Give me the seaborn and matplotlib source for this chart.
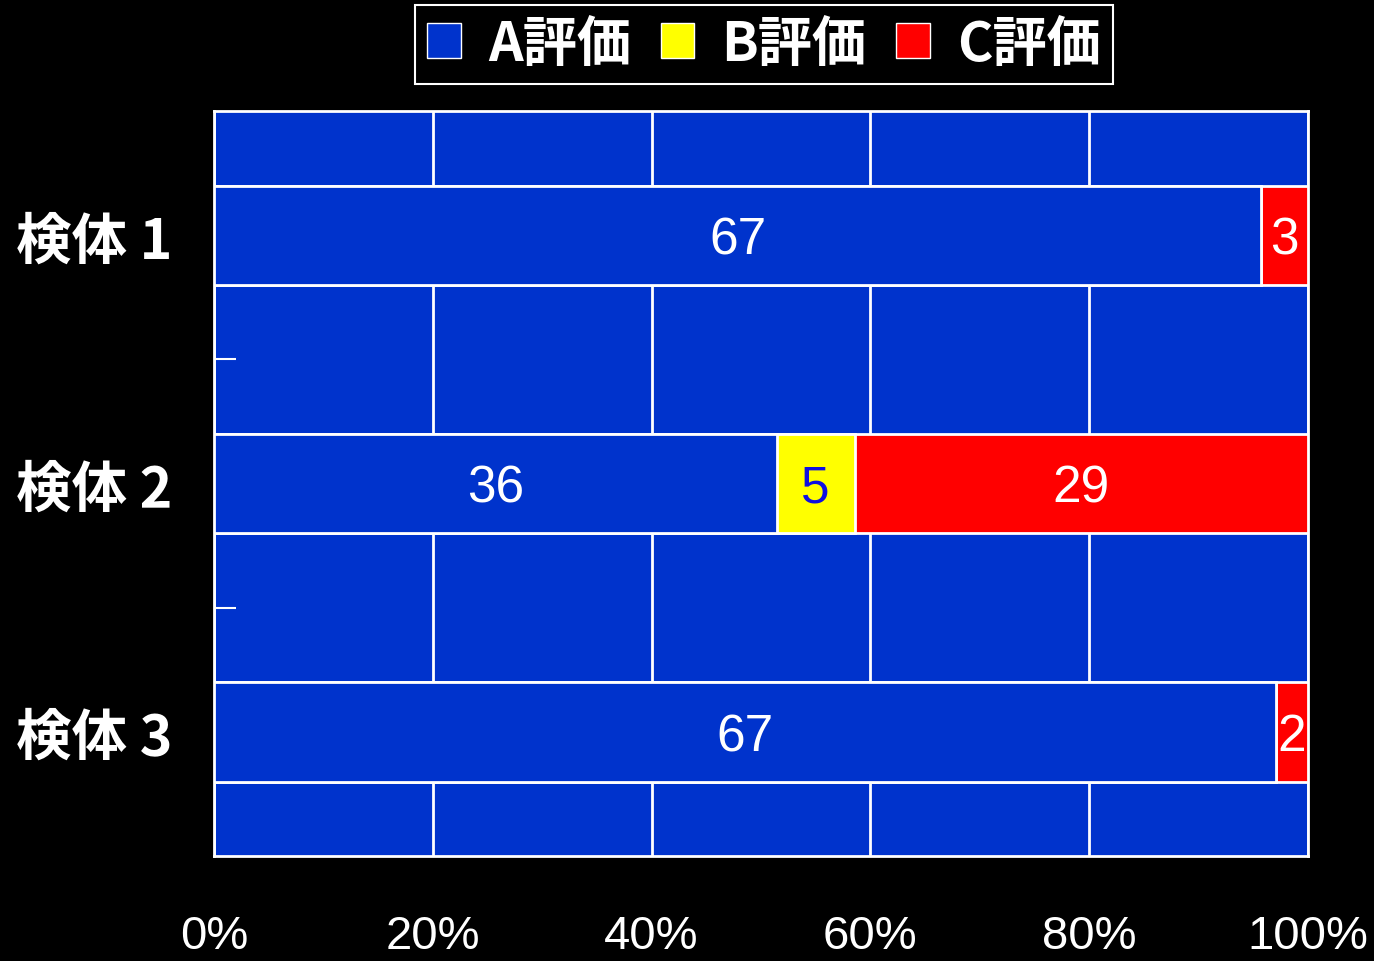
import numpy as np
import pandas as pd
import matplotlib
matplotlib.use("Agg")
import matplotlib.pyplot as plt
from matplotlib.patches import Patch
from matplotlib import font_manager
import seaborn as sns

# Evaluation counts per sample
samples = ["検体 1", "検体 2", "検体 3"]
grade_names = ["A評価", "B評価", "C評価"]
count_a = [67, 36, 67]
count_b = [0, 5, 0]
count_c = [3, 29, 2]

colors = {"A評価": "#0033CC", "B評価": "#FFFF00", "C評価": "#FF0000"}
label_colors = {"A評価": "white", "B評価": "#1010E0", "C評価": "white"}

sns.set_theme(style="white")
plt.rcParams["font.family"] = ["Noto Sans CJK JP", "DejaVu Sans"]

installed = {f.name for f in font_manager.fontManager.ttflist}
num_font = "Liberation Sans Narrow" if "Liberation Sans Narrow" in installed else "Liberation Sans"
num_size = 40 if num_font == "Liberation Sans Narrow" else 34

counts = pd.DataFrame({"sample": samples, "A評価": count_a, "B評価": count_b, "C評価": count_c})
totals = counts[grade_names].sum(axis=1)
pct = counts[grade_names].div(totals, axis=0) * 100
cum = pct.cumsum(axis=1)
starts = cum - pct

fig = plt.figure(figsize=(13.74, 9.62), dpi=100, facecolor="black")
ax = fig.add_axes([214 / 1374, 1 - 857 / 962, (1308 - 214) / 1374, (857 - 112) / 962])
ax.set_facecolor("#0033CC")

# Stacked bars: draw cumulative totals from the outermost segment inwards
for g in reversed(grade_names):
    d = pd.DataFrame({"sample": samples, "value": cum[g].values})
    sns.barplot(data=d, y="sample", x="value", orient="h", color=colors[g],
                saturation=1, width=0.4, edgecolor="white", linewidth=2,
                errorbar=None, ax=ax, zorder=3)

# Segment values
for i, s in enumerate(samples):
    for g in grade_names:
        v = counts.loc[i, g]
        if v == 0:
            continue
        xc = starts.loc[i, g] + pct.loc[i, g] / 2
        ax.text(xc, i + 0.02, str(v), ha="center", va="center", fontsize=37,
                color=label_colors[g], family=[num_font, "DejaVu Sans"],
                zorder=5, clip_on=True)

ax.set_xlim(0, 100)
ax.set_ylim(2.5, -0.5)
ax.set_xticks([0, 20, 40, 60, 80, 100])
ax.set_xticklabels([f"{t}%" for t in [0, 20, 40, 60, 80, 100]],
                   family=[num_font, "DejaVu Sans"], fontsize=num_size)
ax.tick_params(axis="x", length=0, pad=42, colors="white")
ax.set_yticks(range(len(samples)))
ax.set_yticklabels(samples, fontsize=40, fontweight="bold")
ax.tick_params(axis="y", which="major", length=0, pad=30, colors="white")
ax.set_yticks([0.5, 1.5], minor=True)
ax.tick_params(axis="y", which="minor", direction="in", length=16, width=1.5, color="white", left=True)
ax.set_xlabel("")
ax.set_ylabel("")

ax.grid(axis="x", color="white", linewidth=2, zorder=1)
ax.grid(axis="y", visible=False)
ax.set_axisbelow(True)
for sp in ax.spines.values():
    sp.set_color("white")
    sp.set_linewidth(2)
    sp.set_visible(True)

handles = [Patch(facecolor=colors[g], edgecolor="white", linewidth=1) for g in grade_names]
leg = fig.legend(handles, grade_names, loc="center", bbox_to_anchor=(764 / 1374, 1 - 45.5 / 962),
                 ncol=3, frameon=True, fancybox=False, facecolor="black", edgecolor="white",
                 framealpha=1, handlelength=0.62, handleheight=0.62, handletextpad=0.5,
                 columnspacing=0.55, borderpad=0.22,
                 prop={"family": ["Noto Sans CJK JP", "DejaVu Sans"], "size": 39, "weight": "bold"})
for t in leg.get_texts():
    t.set_color("white")
leg.get_frame().set_linewidth(1.5)

fig.savefig("out.png", dpi=100, facecolor="black")
